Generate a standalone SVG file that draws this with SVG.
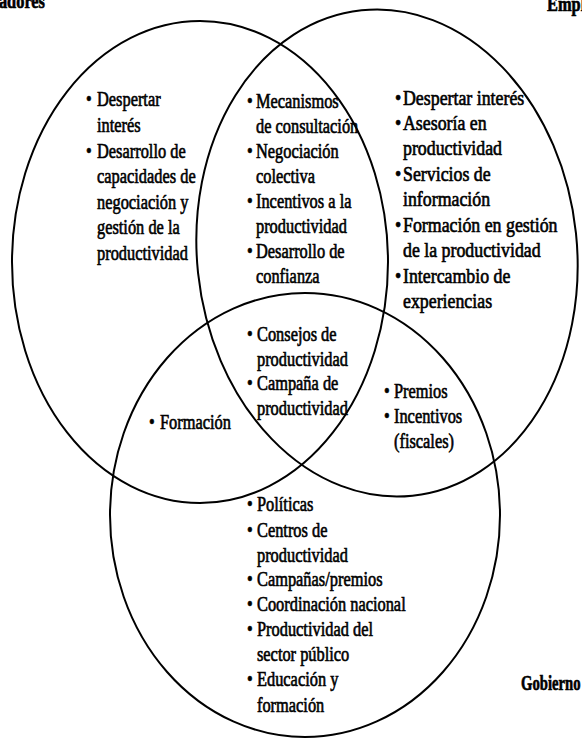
<svg xmlns="http://www.w3.org/2000/svg" width="582" height="741" viewBox="0 0 582 741">
<style>
.c{fill:none;stroke:#000;stroke-width:2}
.t{font-family:"Liberation Serif","Times New Roman",serif;font-size:21px;fill:#000;stroke:#000;stroke-width:0.65}
.h{font-weight:bold}
</style>
<rect width="582" height="741" fill="#fff"/>
<g id="set-trabajadores">
<ellipse class="c" cx="200" cy="262" rx="188" ry="241"/>
<g transform="translate(45 0) scale(0.78 1)"><text class="t h" x="0" y="8" text-anchor="end">Trabajadores</text></g>
</g>
<g id="set-empleadores">
<ellipse class="c" cx="387" cy="253" rx="190" ry="244" transform="rotate(-6 387 253)"/>
<g transform="translate(547 0) scale(0.78 1)"><text class="t h" x="0" y="11">Empleadores</text></g>
</g>
<g id="set-gobierno">
<ellipse class="c" cx="305" cy="515" rx="195" ry="222"/>
<g transform="translate(521 0) scale(0.7 1)"><text class="t h" x="0" y="690">Gobierno</text></g>
</g>
<g id="region-trabajadores" transform="translate(86 0) scale(0.78 1)">
<text class="t" x="0" y="106">•</text><text class="t" x="14.1" y="106">Despertar</text>
<text class="t" x="14.1" y="132">interés</text>
<text class="t" x="0" y="158">•</text><text class="t" x="14.1" y="158">Desarrollo de</text>
<text class="t" x="14.1" y="183">capacidades de</text>
<text class="t" x="14.1" y="209">negociación y</text>
<text class="t" x="14.1" y="234">gestión de la</text>
<text class="t" x="14.1" y="260">productividad</text>
</g>
<g id="region-trabajadores-empleadores" transform="translate(247 0) scale(0.78 1)">
<text class="t" x="0" y="108">•</text><text class="t" x="11.5" y="108">Mecanismos</text>
<text class="t" x="11.5" y="133">de consultación</text>
<text class="t" x="0" y="158">•</text><text class="t" x="11.5" y="158">Negociación</text>
<text class="t" x="11.5" y="183">colectiva</text>
<text class="t" x="0" y="208">•</text><text class="t" x="11.5" y="208">Incentivos a la</text>
<text class="t" x="11.5" y="233">productividad</text>
<text class="t" x="0" y="258">•</text><text class="t" x="11.5" y="258">Desarrollo de</text>
<text class="t" x="11.5" y="283">confianza</text>
</g>
<g id="region-empleadores" transform="translate(395 0) scale(0.85 1)">
<text class="t" x="0" y="105">•</text><text class="t" x="9.4" y="105">Despertar interés</text>
<text class="t" x="0" y="130">•</text><text class="t" x="9.4" y="130">Asesoría en</text>
<text class="t" x="9.4" y="155">productividad</text>
<text class="t" x="0" y="181">•</text><text class="t" x="9.4" y="181">Servicios de</text>
<text class="t" x="9.4" y="206">información</text>
<text class="t" x="0" y="232">•</text><text class="t" x="9.4" y="232">Formación en gestión</text>
<text class="t" x="9.4" y="257">de la productividad</text>
<text class="t" x="0" y="283">•</text><text class="t" x="9.4" y="283">Intercambio de</text>
<text class="t" x="9.4" y="308">experiencias</text>
</g>
<g id="region-todos" transform="translate(247 0) scale(0.78 1)">
<text class="t" x="0" y="341">•</text><text class="t" x="12.8" y="341">Consejos de</text>
<text class="t" x="12.8" y="366">productividad</text>
<text class="t" x="0" y="390">•</text><text class="t" x="12.8" y="390">Campaña de</text>
<text class="t" x="12.8" y="415">productividad</text>
</g>
<g id="region-trabajadores-gobierno" transform="translate(149 0) scale(0.78 1)">
<text class="t" x="0" y="429">•</text><text class="t" x="14.1" y="429">Formación</text>
</g>
<g id="region-empleadores-gobierno" transform="translate(384 0) scale(0.78 1)">
<text class="t" x="0" y="398">•</text><text class="t" x="12.8" y="398">Premios</text>
<text class="t" x="0" y="423">•</text><text class="t" x="12.8" y="423">Incentivos</text>
<text class="t" x="12.8" y="448">(fiscales)</text>
</g>
<g id="region-gobierno" transform="translate(247 0) scale(0.78 1)">
<text class="t" x="0" y="511">•</text><text class="t" x="12.8" y="511">Políticas</text>
<text class="t" x="0" y="537">•</text><text class="t" x="12.8" y="537">Centros de</text>
<text class="t" x="12.8" y="562">productividad</text>
<text class="t" x="0" y="586">•</text><text class="t" x="12.8" y="586">Campañas/premios</text>
<text class="t" x="0" y="611">•</text><text class="t" x="12.8" y="611">Coordinación nacional</text>
<text class="t" x="0" y="636">•</text><text class="t" x="12.8" y="636">Productividad del</text>
<text class="t" x="12.8" y="661">sector público</text>
<text class="t" x="0" y="686">•</text><text class="t" x="12.8" y="686">Educación y</text>
<text class="t" x="12.8" y="712">formación</text>
</g>
</svg>
